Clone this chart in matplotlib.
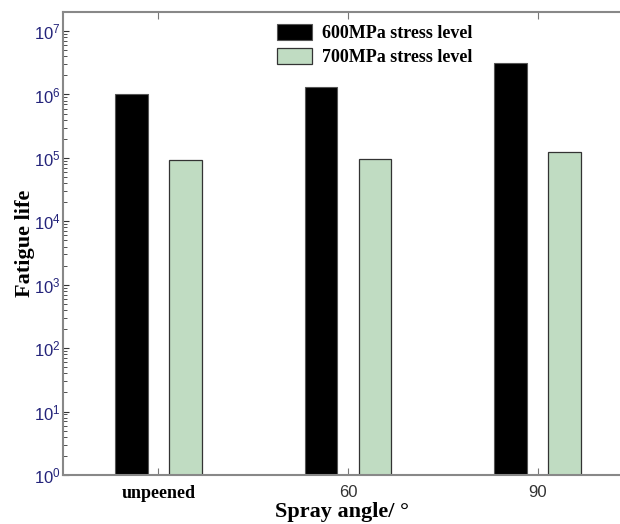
import numpy as np
import matplotlib
matplotlib.use("Agg")
import matplotlib.pyplot as plt
from matplotlib.ticker import FixedLocator, NullFormatter

# data
categories = ['unpeened', '60', '90']
life_600 = [1.0e6, 1.33e6, 3.1e6]
life_700 = [9.2e4, 9.6e4, 1.22e5]
labels = ['600MPa stress level', '700MPa stress level']
decades = np.arange(0, 8)

fig = plt.figure(figsize=(6.2, 5.24), dpi=100)
ax = fig.add_axes([0.1016, 0.0935, 0.9, 0.8835])

x = np.arange(len(categories))
w = 0.172
ax.bar(x - 0.143, life_600, w, bottom=1, color='black', edgecolor='#555555',
       linewidth=0.8, label=labels[0], zorder=2)
ax.bar(x + 0.143, life_700, w, bottom=1, color='#c0dcc2', edgecolor='#333333',
       linewidth=0.9, label=labels[1], zorder=2)

ax.set_yscale('log')
ax.set_ylim(1, 10 ** 7.3)
ax.set_xlim(-0.503, 2.44)

major = 10.0 ** decades
minor = [m * 10.0 ** d for d in decades for m in range(2, 10) if m * 10.0 ** d < 10 ** 7.3]
ax.set_yticks(major)
ax.set_yticklabels([f'$\\mathdefault{{10^{{{d}}}}}$' for d in decades])
ax.yaxis.set_minor_locator(FixedLocator(minor))
ax.yaxis.set_minor_formatter(NullFormatter())

ax.set_xticks(x)
ax.set_xticklabels(categories)
ax.tick_params(axis='x', which='both', direction='in', length=5, color='#777777',
               top=True, bottom=True, pad=7)
ax.tick_params(axis='y', which='major', direction='in', length=4, color='#333333',
               right=False, pad=1.5)
ax.tick_params(axis='y', which='minor', direction='in', length=3, color='#333333')

for t in ax.get_yticklabels():
    t.set_fontfamily('Liberation Sans')
    t.set_fontsize(12)
    t.set_color('#23237a')
xt = ax.get_xticklabels()
xt[0].set_fontfamily('Liberation Serif')
xt[0].set_fontweight('bold')
xt[0].set_fontsize(13)
xt[0].set_color('black')
for t in xt[1:]:
    t.set_fontfamily('Liberation Sans')
    t.set_fontsize(12)
    t.set_color('#333333')

for s in ['left', 'bottom', 'top']:
    ax.spines[s].set_color('#888888')
    ax.spines[s].set_linewidth(1.5)
ax.spines['right'].set_visible(False)

ax.set_xlabel('Spray angle/ °', fontfamily='Liberation Serif', fontweight='bold',
              fontsize=16, labelpad=0)
ax.set_ylabel('Fatigue life', fontfamily='Liberation Serif', fontweight='bold',
              fontsize=16)
ax.yaxis.set_label_coords(-0.05, 0.5)

leg = ax.legend(loc='upper left', bbox_to_anchor=(0.384, 0.975), frameon=False,
                prop={'family': 'Liberation Serif', 'weight': 'bold', 'size': 13},
                handlelength=1.9, handleheight=1.05, labelspacing=0.3,
                handletextpad=0.6, borderpad=0, borderaxespad=0)

fig.savefig('out.png', dpi=100)
